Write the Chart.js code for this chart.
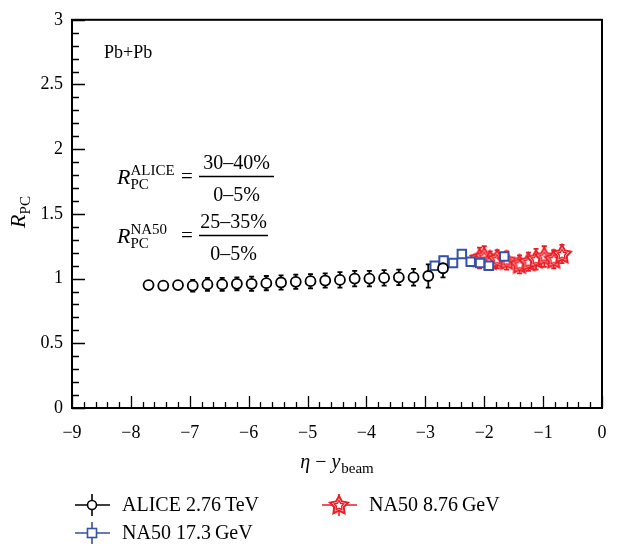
<!DOCTYPE html>
<html>
<head>
<meta charset="utf-8">
<script src="https://cdn.jsdelivr.net/npm/chart.js@4.4.0/dist/chart.umd.min.js"></script>
<style>
  html, body { margin: 0; padding: 0; background: #fff; }
</style>
</head>
<body>
<canvas id="rpc" width="631" height="546"></canvas>
<script>
const SERIF = '"Liberation Serif", "DejaVu Serif", serif';

// axis ticks
const xTicks = [-9, -8, -7, -6, -5, -4, -3, -2, -1, 0];
const yTicks = [0, 0.5, 1, 1.5, 2, 2.5, 3];

// ALICE 2.76 TeV
const aliceX = [-7.7, -7.45, -7.2, -6.95, -6.7, -6.45, -6.2, -5.95, -5.7, -5.45, -5.2,
                -4.95, -4.7, -4.45, -4.2, -3.95, -3.7, -3.45, -3.2, -2.95, -2.7];
const aliceY = [0.95, 0.945, 0.95, 0.945, 0.955, 0.955, 0.96, 0.96, 0.965, 0.97, 0.975,
                0.98, 0.985, 0.99, 1.0, 1.0, 1.005, 1.01, 1.01, 1.02, 1.08];
const aliceErr = [0.02, 0.02, 0.025, 0.045, 0.05, 0.05, 0.05, 0.055, 0.055, 0.055, 0.055,
                  0.055, 0.055, 0.06, 0.06, 0.06, 0.06, 0.06, 0.065, 0.09, 0.07];

// NA50 17.3 GeV
const na50hiX = [-2.84, -2.69, -2.53, -2.38, -2.23, -2.07, -1.92, -1.66];
const na50hiY = [1.10, 1.14, 1.12, 1.19, 1.13, 1.12, 1.10, 1.17];
const na50hiErr = [0.03, 0.03, 0.03, 0.03, 0.03, 0.03, 0.03, 0.03];

// NA50 8.76 GeV
const na50loX = [-2.08, -2.0, -1.9, -1.78, -1.62, -1.4, -1.25, -1.12, -0.98, -0.82, -0.68];
const na50loY = [1.16, 1.17, 1.14, 1.15, 1.14, 1.11, 1.13, 1.15, 1.17, 1.15, 1.19];
const na50loErr = [0.08, 0.08, 0.07, 0.07, 0.07, 0.07, 0.07, 0.08, 0.08, 0.07, 0.07];

const BLACK = '#000000';
const BLUE = '#3553a6';
const RED = '#ec1c24';

const toPts = (xs, ys) => xs.map((x, i) => ({ x, y: ys[i] }));
const fmtNum = v => (v < 0 ? '\u2212' + Math.abs(v) : String(v));

// outlined five-point star used as a point style
function makeStar(size) {
  const c = document.createElement('canvas');
  c.width = c.height = size;
  const g = c.getContext('2d');
  const cx = size / 2, cy = size / 2 + 0.5;
  const star = (ro, ri) => {
    g.beginPath();
    for (let k = 0; k < 10; k++) {
      const r = k % 2 ? ri : ro;
      const a = -Math.PI / 2 + k * Math.PI / 5;
      g.lineTo(cx + r * Math.cos(a), cy + r * Math.sin(a));
    }
    g.closePath();
  };
  g.strokeStyle = RED;
  g.lineWidth = 2;
  star(size / 2 - 1.5, size / 4 - 0.5);
  g.fillStyle = '#ffffff';
  g.fill();
  g.stroke();
  g.lineWidth = 1.4;
  star(size / 4 - 0.5, size / 8);
  g.stroke();
  return c;
}
const starImg = makeStar(22);

const errorBars = {
  id: 'errorBars',
  beforeDatasetsDraw(chart) {
    const { ctx, scales: { x, y } } = chart;
    chart.data.datasets.forEach(ds => {
      if (!ds.errors) return;
      ctx.save();
      ctx.strokeStyle = ds.borderColor;
      ctx.lineWidth = 1.8;
      ds.data.forEach((p, j) => {
        const e = ds.errors[j];
        const px = x.getPixelForValue(p.x);
        const lo = y.getPixelForValue(p.y - e);
        const hi = y.getPixelForValue(p.y + e);
        ctx.beginPath();
        ctx.moveTo(px, lo); ctx.lineTo(px, hi);
        ctx.moveTo(px - 2.5, lo); ctx.lineTo(px + 2.5, lo);
        ctx.moveTo(px - 2.5, hi); ctx.lineTo(px + 2.5, hi);
        ctx.stroke();
      });
      ctx.restore();
    });
  }
};

// box around the plot and inward tick marks
const frame = {
  id: 'frame',
  afterDraw(chart) {
    const { ctx, chartArea: a, scales: { x, y } } = chart;
    ctx.save();
    ctx.strokeStyle = BLACK;
    ctx.lineWidth = 1.3;
    ctx.beginPath();
    for (let v = -9; v <= 0.0001; v += 0.2) {
      const px = Math.round(x.getPixelForValue(v)) + 0.5;
      const major = Math.abs(v - Math.round(v)) < 1e-6;
      ctx.moveTo(px, a.bottom);
      ctx.lineTo(px, a.bottom - (major ? 12 : 6));
    }
    for (let v = 0; v <= 3.0001; v += 0.1) {
      const py = Math.round(y.getPixelForValue(v)) + 0.5;
      const major = Math.abs(v * 2 - Math.round(v * 2)) < 1e-6;
      ctx.moveTo(a.left, py);
      ctx.lineTo(a.left + (major ? 13 : 7), py);
    }
    ctx.stroke();
    ctx.lineWidth = 2;
    ctx.strokeRect(a.left, a.top, a.right - a.left, a.bottom - a.top);
    ctx.restore();
  }
};

// draws a run of text pieces, each with its own font and baseline shift
function rich(ctx, parts, x, y) {
  let cx = x;
  parts.forEach(p => {
    ctx.font = p.font;
    ctx.fillText(p.t, cx, y + (p.dy || 0));
    cx += ctx.measureText(p.t).width + (p.gap || 0);
  });
  return cx;
}

function rpcFormula(ctx, x, base, sup, num, den, fracL, fracR) {
  ctx.textAlign = 'left';
  ctx.textBaseline = 'alphabetic';
  ctx.font = 'italic 22px ' + SERIF;
  ctx.fillText('R', x, base);
  const w = ctx.measureText('R').width;
  ctx.font = '15px ' + SERIF;
  ctx.fillText(sup, x + w, base - 9);
  ctx.fillText('PC', x + w, base + 5);
  ctx.font = '21px ' + SERIF;
  ctx.fillText('=', 181, base - 1);
  const mid = (fracL + fracR) / 2;
  ctx.textAlign = 'center';
  ctx.font = '20px ' + SERIF;
  ctx.fillText(num, mid, base - 15);
  ctx.fillText(den, mid, base + 17);
  ctx.lineWidth = 1.6;
  ctx.beginPath();
  ctx.moveTo(fracL, base - 7.5);
  ctx.lineTo(fracR, base - 7.5);
  ctx.stroke();
}

const annotations = {
  id: 'annotations',
  afterDraw(chart) {
    const { ctx, chartArea: a } = chart;
    ctx.save();
    ctx.fillStyle = BLACK;
    ctx.strokeStyle = BLACK;

    ctx.font = '18px ' + SERIF;
    ctx.textBaseline = 'alphabetic';
    ctx.fillText('Pb+Pb', 104, 58);

    rpcFormula(ctx, 117, 184, 'ALICE', '30\u201340%', '0\u20135%', 199, 274);
    rpcFormula(ctx, 117, 243, 'NA50', '25\u201335%', '0\u20135%', 199, 268);

    // x axis title
    const xc = (a.left + a.right) / 2;
    ctx.textAlign = 'left';
    const xParts = [
      { t: '\u03b7', font: 'italic 20px ' + SERIF },
      { t: ' \u2212 ', font: '20px ' + SERIF },
      { t: 'y', font: 'italic 20px ' + SERIF, gap: 1 },
      { t: 'beam', font: '15px ' + SERIF, dy: 5 }
    ];
    let tw = 0;
    xParts.forEach(p => { ctx.font = p.font; tw += ctx.measureText(p.t).width + (p.gap || 0); });
    rich(ctx, xParts, xc - tw / 2, 468);

    // y axis title
    ctx.save();
    ctx.translate(25, 212);
    ctx.rotate(-Math.PI / 2);
    const yParts = [
      { t: 'R', font: 'italic 22px ' + SERIF },
      { t: 'PC', font: '15px ' + SERIF, dy: 5 }
    ];
    let yw = 0;
    yParts.forEach(p => { ctx.font = p.font; yw += ctx.measureText(p.t).width; });
    rich(ctx, yParts, -yw / 2, 0);
    ctx.restore();

    // legend
    const items = [
      { label: 'ALICE 2.76\u2009TeV', color: BLACK, mark: 'circle', x: 75, y: 505 },
      { label: 'NA50 8.76\u2009GeV', color: RED, mark: 'star', x: 322, y: 505 },
      { label: 'NA50 17.3\u2009GeV', color: BLUE, mark: 'square', x: 75, y: 533 }
    ];
    items.forEach(it => {
      const mx = it.x + 17;
      ctx.strokeStyle = it.color;
      ctx.lineWidth = 1.6;
      ctx.beginPath();
      ctx.moveTo(it.x, it.y); ctx.lineTo(it.x + 35, it.y);
      ctx.moveTo(mx, it.y - 11); ctx.lineTo(mx, it.y + 11);
      ctx.stroke();
      if (it.mark === 'circle') {
        ctx.beginPath();
        ctx.arc(mx, it.y, 4.5, 0, Math.PI * 2);
        ctx.fillStyle = '#fff';
        ctx.fill();
        ctx.stroke();
      } else if (it.mark === 'square') {
        ctx.fillStyle = '#fff';
        ctx.fillRect(mx - 4.5, it.y - 4.5, 9, 9);
        ctx.strokeRect(mx - 4.5, it.y - 4.5, 9, 9);
      } else {
        ctx.drawImage(starImg, mx - 11, it.y - 11);
      }
      ctx.fillStyle = BLACK;
      ctx.font = '20px ' + SERIF;
      ctx.textAlign = 'left';
      ctx.textBaseline = 'middle';
      ctx.fillText(it.label, it.x + 47, it.y + 1);
    });
    ctx.restore();
  }
};

new Chart(document.getElementById('rpc'), {
  type: 'scatter',
  data: {
    datasets: [
      {
        label: 'ALICE 2.76 TeV',
        data: toPts(aliceX, aliceY),
        errors: aliceErr,
        borderColor: BLACK,
        backgroundColor: '#ffffff',
        pointStyle: 'circle',
        pointRadius: 5,
        pointBorderWidth: 1.8
      },
      {
        label: 'NA50 17.3 GeV',
        data: toPts(na50hiX, na50hiY),
        errors: na50hiErr,
        borderColor: BLUE,
        backgroundColor: '#ffffff',
        pointStyle: 'rect',
        pointRadius: 6,
        pointBorderWidth: 2
      },
      {
        label: 'NA50 8.76 GeV',
        data: toPts(na50loX, na50loY),
        errors: na50loErr,
        borderColor: RED,
        backgroundColor: RED,
        pointStyle: starImg,
        pointRadius: 11
      }
    ]
  },
  options: {
    responsive: false,
    animation: false,
    devicePixelRatio: 1,
    layout: { padding: { top: 12, right: 29, left: 0, bottom: 0 } },
    plugins: { legend: { display: false }, tooltip: { enabled: false } },
    scales: {
      x: {
        type: 'linear', min: -9, max: 0,
        afterBuildTicks: s => { s.ticks = xTicks.map(v => ({ value: v })); },
        afterFit: s => { s.height = 138; },
        grid: { display: false, drawTicks: false },
        border: { display: false },
        ticks: {
          color: BLACK, padding: 14, maxRotation: 0, autoSkip: false,
          font: { family: SERIF, size: 18 },
          callback: v => fmtNum(v)
        }
      },
      y: {
        type: 'linear', min: 0, max: 3,
        afterBuildTicks: s => { s.ticks = yTicks.map(v => ({ value: v })); },
        afterFit: s => { s.width = 72; },
        grid: { display: false, drawTicks: false },
        border: { display: false },
        ticks: {
          color: BLACK, padding: 9, autoSkip: false,
          font: { family: SERIF, size: 18 },
          callback: v => fmtNum(v)
        }
      }
    }
  },
  plugins: [errorBars, frame, annotations]
});
</script>
</body>
</html>
